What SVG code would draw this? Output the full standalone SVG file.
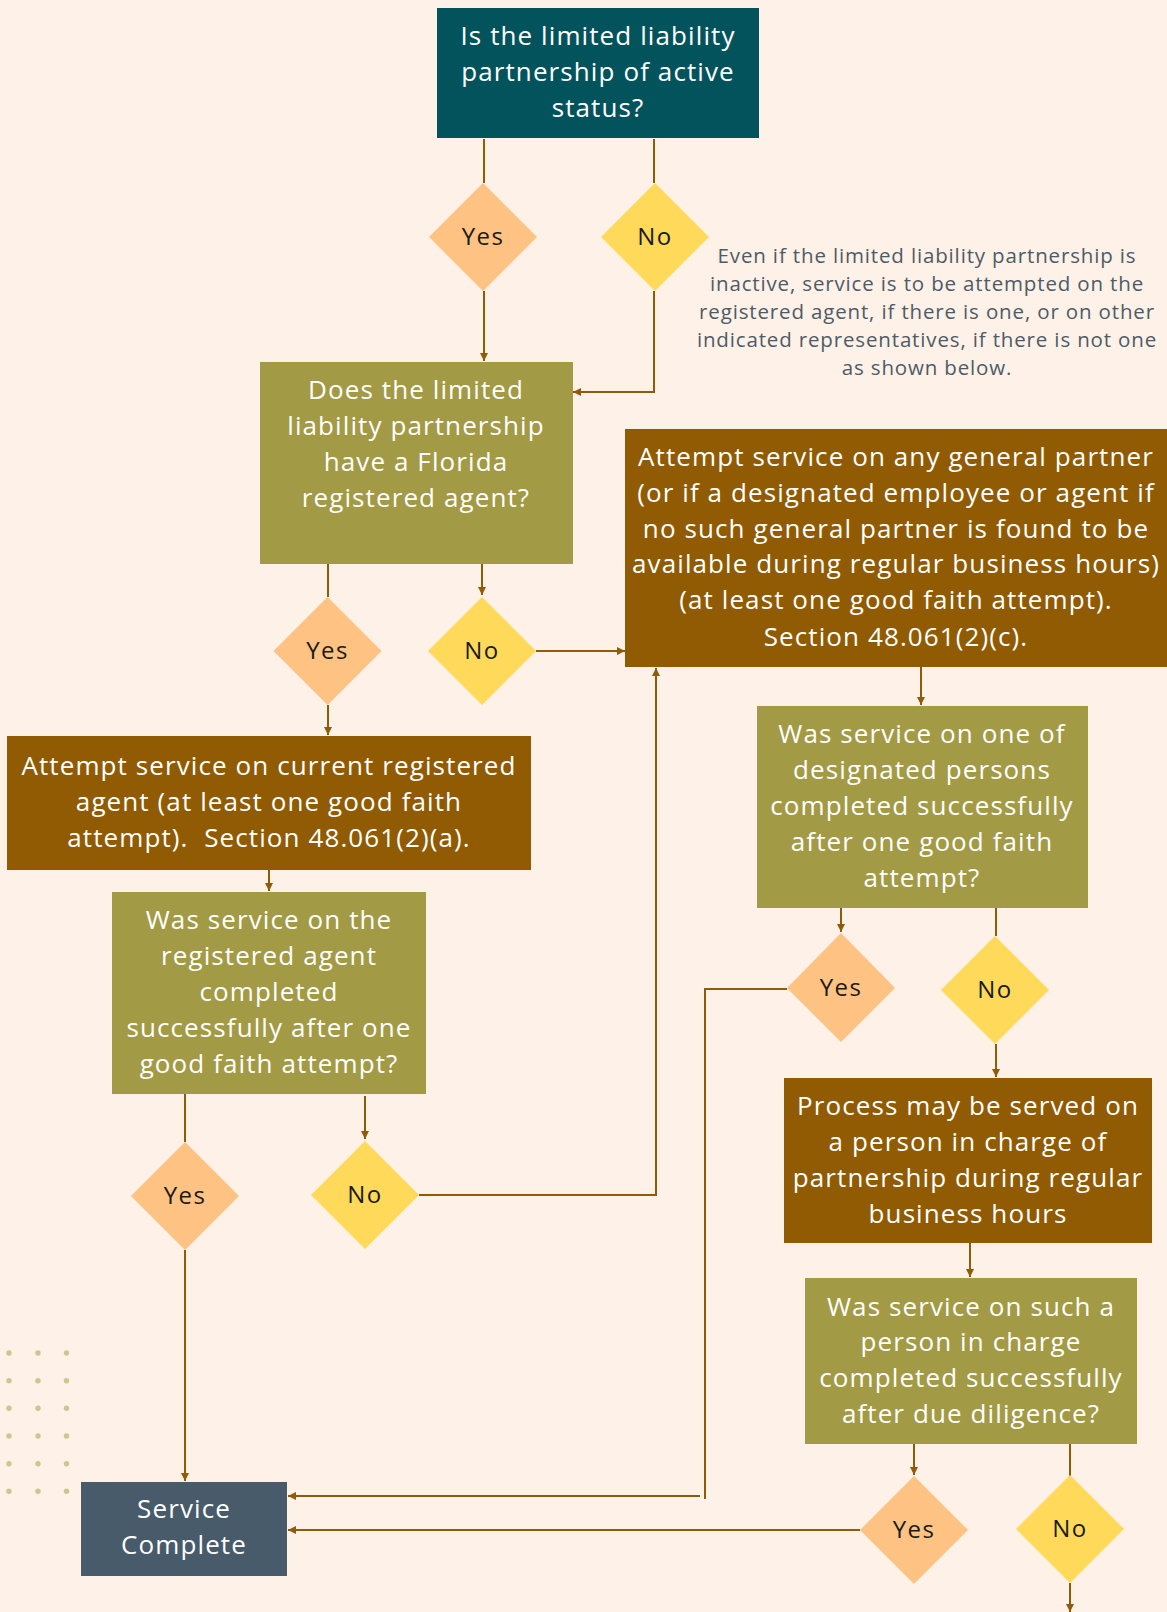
<svg xmlns="http://www.w3.org/2000/svg" width="1167" height="1612" viewBox="0 0 1167 1612">
<style>
.bg{fill:#fef1e8}
.teal{fill:#02535c}
.olive{fill:#a39a45}
.brown{fill:#905b03}
.slate{fill:#475b6b}
.yes{fill:#fec283}
.no{fill:#fed95a}
.t{font-family:"Open Sans",Lato,sans-serif;font-size:26px;fill:#ffffff;text-anchor:middle;letter-spacing:1.1px}
.d{font-family:"Open Sans",Lato,sans-serif;font-size:24px;fill:#1a1a1a;text-anchor:middle;letter-spacing:1.4px}
.note{font-family:"Open Sans",Lato,sans-serif;font-size:20.5px;fill:#4e5b66;text-anchor:middle;letter-spacing:0.85px}
.c{fill:none;stroke:#8f5a0a;stroke-width:2}
.dot{fill:#d2c48e}
</style>
<defs>
<marker id="ah" markerUnits="userSpaceOnUse" markerWidth="9" markerHeight="9" refX="8" refY="4" orient="auto">
<path d="M0,0 L8,4 L0,8 z" fill="#8f5a0a"/>
</marker>
</defs>
<rect class="bg" x="0" y="0" width="1167" height="1612"/>
<g id="dots">
<circle class="dot" cx="9" cy="1353" r="2.7"/><circle class="dot" cx="38" cy="1353" r="2.7"/><circle class="dot" cx="66.5" cy="1353" r="2.7"/>
<circle class="dot" cx="9" cy="1380.7" r="2.7"/><circle class="dot" cx="38" cy="1380.7" r="2.7"/><circle class="dot" cx="66.5" cy="1380.7" r="2.7"/>
<circle class="dot" cx="9" cy="1408.3" r="2.7"/><circle class="dot" cx="38" cy="1408.3" r="2.7"/><circle class="dot" cx="66.5" cy="1408.3" r="2.7"/>
<circle class="dot" cx="9" cy="1436" r="2.7"/><circle class="dot" cx="38" cy="1436" r="2.7"/><circle class="dot" cx="66.5" cy="1436" r="2.7"/>
<circle class="dot" cx="9" cy="1463.7" r="2.7"/><circle class="dot" cx="38" cy="1463.7" r="2.7"/><circle class="dot" cx="66.5" cy="1463.7" r="2.7"/>
<circle class="dot" cx="9" cy="1491.3" r="2.7"/><circle class="dot" cx="38" cy="1491.3" r="2.7"/><circle class="dot" cx="66.5" cy="1491.3" r="2.7"/>
</g>
<g id="connectors">
<path class="c" d="M484,139 V183"/>
<path class="c" d="M654,139 V183"/>
<path class="c" d="M484,291 V361" marker-end="url(#ah)"/>
<path class="c" d="M654,291 V392 H573" marker-end="url(#ah)"/>
<path class="c" d="M328,564 V597"/>
<path class="c" d="M482,564 V595" marker-end="url(#ah)"/>
<path class="c" d="M536,651 H625" marker-end="url(#ah)"/>
<path class="c" d="M328,705 V735" marker-end="url(#ah)"/>
<path class="c" d="M269,870 V891" marker-end="url(#ah)"/>
<path class="c" d="M185,1094 V1142"/>
<path class="c" d="M365,1096 V1139" marker-end="url(#ah)"/>
<path class="c" d="M419,1195 H656 V668" marker-end="url(#ah)"/>
<path class="c" d="M185,1250 V1481" marker-end="url(#ah)"/>
<path class="c" d="M921,667 V705" marker-end="url(#ah)"/>
<path class="c" d="M841,908 V932" marker-end="url(#ah)"/>
<path class="c" d="M996,908 V936"/>
<path class="c" d="M787,989 H705 V1499"/>
<path class="c" d="M700,1496 H288" marker-end="url(#ah)"/>
<path class="c" d="M996,1044 V1077" marker-end="url(#ah)"/>
<path class="c" d="M970,1243 V1277" marker-end="url(#ah)"/>
<path class="c" d="M914,1444 V1475" marker-end="url(#ah)"/>
<path class="c" d="M1070,1444 V1476"/>
<path class="c" d="M860,1530 H288" marker-end="url(#ah)"/>
<path class="c" d="M1070,1583 V1612" marker-end="url(#ah)"/>
</g>
<g id="q-active">
<rect class="teal" x="437" y="8" width="322" height="130"/>
<text class="t" x="598" y="45">Is the limited liability</text>
<text class="t" x="598" y="81">partnership of active</text>
<text class="t" x="598" y="117">status?</text>
</g>
<g id="d-yes1"><polygon class="yes" points="483,183 537,237 483,291 429,237"/><text class="d" x="483" y="245">Yes</text></g>
<g id="d-no1"><polygon class="no" points="655,183 709,237 655,291 601,237"/><text class="d" x="655" y="245">No</text></g>
<g id="note">
<text class="note" x="927" y="263">Even if the limited liability partnership is</text>
<text class="note" x="927" y="291">inactive, service is to be attempted on the</text>
<text class="note" x="927" y="319">registered agent, if there is one, or on other</text>
<text class="note" x="927" y="347">indicated representatives, if there is not one</text>
<text class="note" x="927" y="375">as shown below.</text>
</g>
<g id="q-agent">
<rect class="olive" x="260" y="362" width="313" height="202"/>
<text class="t" x="416" y="399">Does the limited</text>
<text class="t" x="416" y="435">liability partnership</text>
<text class="t" x="416" y="471">have a Florida</text>
<text class="t" x="416" y="507">registered agent?</text>
</g>
<g id="d-yes2"><polygon class="yes" points="327.5,597 381.5,651 327.5,705 273.5,651"/><text class="d" x="327.5" y="659">Yes</text></g>
<g id="d-no2"><polygon class="no" points="482,597 536,651 482,705 428,651"/><text class="d" x="482" y="659">No</text></g>
<g id="a-registered">
<rect class="brown" x="7" y="736" width="524" height="134"/>
<text class="t" x="269" y="775">Attempt service on current registered</text>
<text class="t" x="269" y="811">agent (at least one good faith</text>
<text class="t" x="269" y="847" xml:space="preserve">attempt).  Section 48.061(2)(a).</text>
</g>
<g id="a-partner">
<rect class="brown" x="625" y="429" width="542" height="238"/>
<text class="t" x="896" y="466">Attempt service on any general partner</text>
<text class="t" x="896" y="502">(or if a designated employee or agent if</text>
<text class="t" x="896" y="538">no such general partner is found to be</text>
<text class="t" x="896" y="573">available during regular business hours)</text>
<text class="t" x="896" y="609">(at least one good faith attempt).</text>
<text class="t" x="896" y="646">Section 48.061(2)(c).</text>
</g>
<g id="q-registered-done">
<rect class="olive" x="112" y="892" width="314" height="202"/>
<text class="t" x="269" y="929">Was service on the</text>
<text class="t" x="269" y="965">registered agent</text>
<text class="t" x="269" y="1001">completed</text>
<text class="t" x="269" y="1037">successfully after one</text>
<text class="t" x="269" y="1073">good faith attempt?</text>
</g>
<g id="d-yes3"><polygon class="yes" points="185,1142 239,1196 185,1250 131,1196"/><text class="d" x="185" y="1204">Yes</text></g>
<g id="d-no3"><polygon class="no" points="365,1141 419,1195 365,1249 311,1195"/><text class="d" x="365" y="1203">No</text></g>
<g id="q-designated">
<rect class="olive" x="757" y="706" width="331" height="202"/>
<text class="t" x="922" y="743">Was service on one of</text>
<text class="t" x="922" y="779">designated persons</text>
<text class="t" x="922" y="815">completed successfully</text>
<text class="t" x="922" y="851">after one good faith</text>
<text class="t" x="922" y="887">attempt?</text>
</g>
<g id="d-yes4"><polygon class="yes" points="841,933 895,988 841,1042 787,988"/><text class="d" x="841" y="996">Yes</text></g>
<g id="d-no4"><polygon class="no" points="995,936 1049,990 995,1044 941,990"/><text class="d" x="995" y="998">No</text></g>
<g id="a-in-charge">
<rect class="brown" x="784" y="1078" width="368" height="165"/>
<text class="t" x="968" y="1115">Process may be served on</text>
<text class="t" x="968" y="1151">a person in charge of</text>
<text class="t" x="968" y="1187">partnership during regular</text>
<text class="t" x="968" y="1223">business hours</text>
</g>
<g id="q-in-charge">
<rect class="olive" x="805" y="1278" width="332" height="166"/>
<text class="t" x="971" y="1316">Was service on such a</text>
<text class="t" x="971" y="1351">person in charge</text>
<text class="t" x="971" y="1387">completed successfully</text>
<text class="t" x="971" y="1423">after due diligence?</text>
</g>
<g id="d-yes5"><polygon class="yes" points="914,1476 968,1530 914,1584 860,1530"/><text class="d" x="914" y="1538">Yes</text></g>
<g id="d-no5"><polygon class="no" points="1070,1475 1124,1529 1070,1583 1016,1529"/><text class="d" x="1070" y="1537">No</text></g>
<g id="service-complete">
<rect class="slate" x="81" y="1482" width="206" height="94"/>
<text class="t" x="184" y="1518">Service</text>
<text class="t" x="184" y="1554">Complete</text>
</g>
</svg>
